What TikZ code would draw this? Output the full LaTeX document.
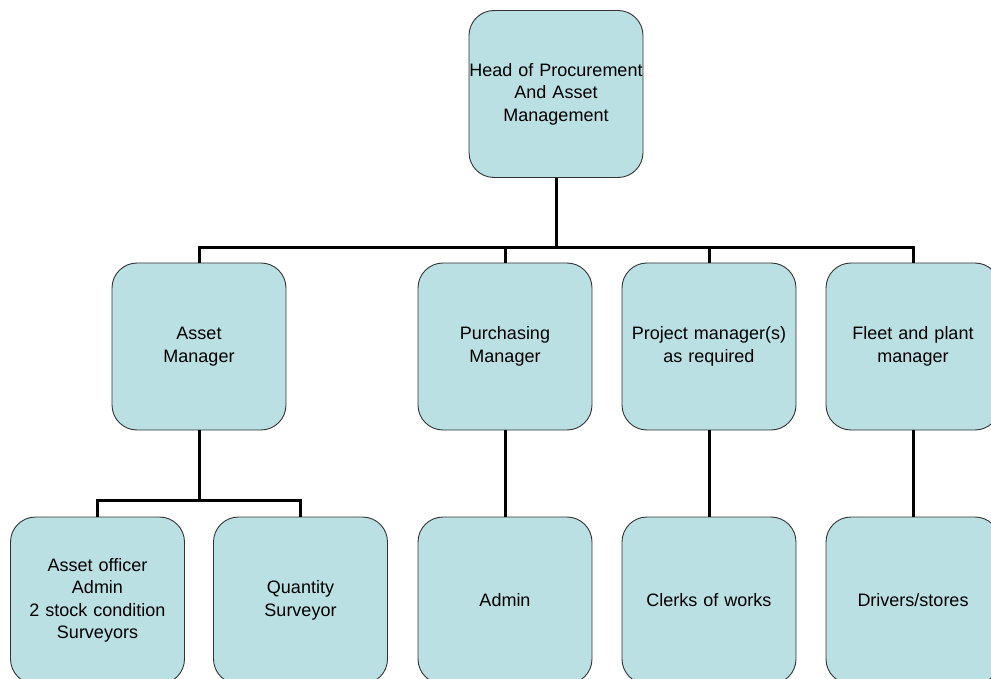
\documentclass[tikz,border=0pt]{standalone}
\usepackage{fontspec}
\setmainfont{Liberation Sans}
\begin{document}
\begin{tikzpicture}[x=1pt,y=-1pt,
  orgbox/.style={draw=black!80, line width=0.9pt, fill=boxfill, rounded corners=25pt,
    minimum width=174pt, minimum height=167pt, inner sep=0pt,
    text width=174pt, align=center,
    font=\fontsize{18}{22.5}\selectfont},
  link/.style={line width=3pt, black}]
\definecolor{boxfill}{RGB}{187,224,227}
\useasboundingbox (0,0) rectangle (991,679);
\clip (0,0) rectangle (991,679);
\fill[white] (0,0) rectangle (991,679);

% top level
\node[orgbox] (head) at (556,94) {Head of Procurement\\And Asset\\Management};

% managers
\node[orgbox] (am) at (199,346.5) {Asset\\Manager};
\node[orgbox] (pm) at (505,346.5) {Purchasing\\Manager};
\node[orgbox] (prj) at (709,346.5) {Project manager(s)\\as required};
\node[orgbox] (fm) at (913,346.5) {Fleet and plant\\manager};

% staff
\node[orgbox] (ao) at (97.5,600.5) {Asset officer\\Admin\\2 stock condition\\Surveyors};
\node[orgbox] (qs) at (300.5,600.5) {Quantity\\Surveyor};
\node[orgbox] (adm) at (505,600.5) {Admin};
\node[orgbox] (cw) at (709,600.5) {Clerks of works};
\node[orgbox] (drv) at (913,600.5) {Drivers/stores};

% bus coordinates
\coordinate (bus1) at (0,248);
\coordinate (bus2) at (0,500);

% connectors from the head
\draw[link] (head.south) -- (head.south |- bus1);
\draw[link, line cap=rect] (am.north |- bus1) -- (fm.north |- bus1);
\foreach \n in {am,pm,prj,fm} \draw[link] (\n.north |- bus1) -- (\n.north);

% asset manager team
\draw[link] (am.south) -- (am.south |- bus2);
\draw[link, line cap=rect] (ao.north |- bus2) -- (qs.north |- bus2);
\foreach \n in {ao,qs} \draw[link] (\n.north |- bus2) -- (\n.north);

% single reports
\draw[link] (pm.south) -- (adm.north);
\draw[link] (prj.south) -- (cw.north);
\draw[link] (fm.south) -- (drv.north);
\end{tikzpicture}
\end{document}
